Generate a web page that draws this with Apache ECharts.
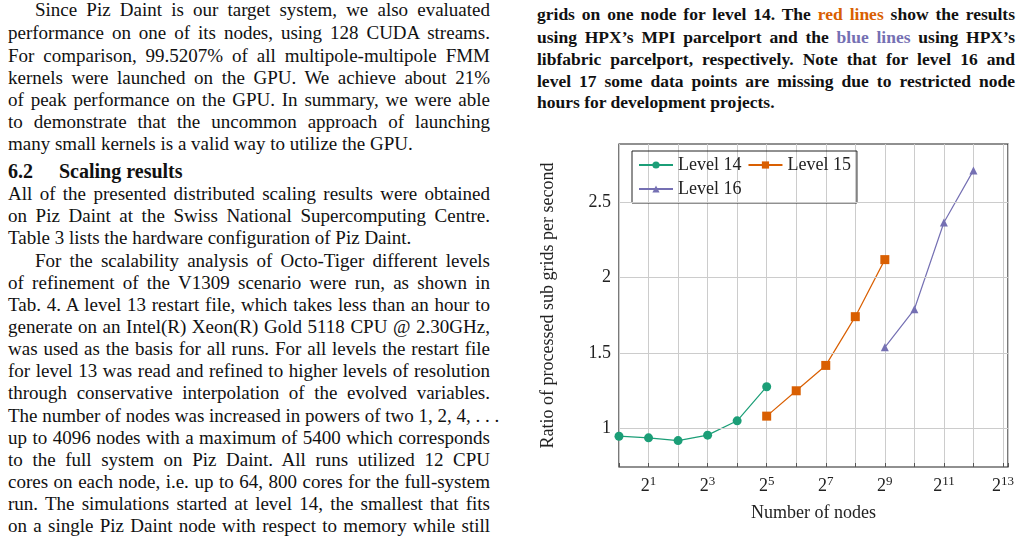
<!DOCTYPE html>
<html><head><meta charset="utf-8">
<script src="https://cdn.jsdelivr.net/npm/echarts@6/dist/echarts.min.js"></script>
<style>
body{margin:0;width:1022px;height:539px;background:#fff;position:relative;overflow:hidden;font-family:"Liberation Serif",serif;color:#111}
.l{position:absolute;left:8px;width:482px;height:22px;line-height:22px;font-size:19px;white-space:nowrap;text-align:justify;text-align-last:justify}
.l.n{text-align-last:left}
.l.i{left:35px;width:455px}
.r{position:absolute;left:537px;width:478px;height:22px;line-height:22px;font-size:17.5px;font-weight:bold;white-space:nowrap;text-align:justify;text-align-last:justify}
.r.n{text-align-last:left}
#chart{position:absolute;left:520px;top:120px;width:502px;height:419px}
</style></head><body>
<div id="txt"></div>
<div id="chart"></div>
<script>
const leftLines = [
 [10,"Since Piz Daint is our target system, we also evaluated","i"],
 [33,"performance on one of its nodes, using 128 CUDA streams.",""],
 [56,"For comparison, 99.5207% of all multipole-multipole FMM",""],
 [78,"kernels were launched on the GPU. We achieve about 21%",""],
 [100,"of peak performance on the GPU. In summary, we were able",""],
 [122,"to demonstrate that the uncommon approach of launching",""],
 [144,"many small kernels is a valid way to utilize the GPU.","n"],
 [194,"All of the presented distributed scaling results were obtained",""],
 [216,"on Piz Daint at the Swiss National Supercomputing Centre.",""],
 [238,"Table 3 lists the hardware configuration of Piz Daint.","n"],
 [261,"For the scalability analysis of Octo-Tiger different levels","i"],
 [283,"of refinement of the V1309 scenario were run, as shown in",""],
 [305,"Tab. 4. A level 13 restart file, which takes less than an hour to",""],
 [327,"generate on an Intel(R) Xeon(R) Gold 5118 CPU @ 2.30GHz,",""],
 [349,"was used as the basis for all runs. For all levels the restart file",""],
 [371,"for level 13 was read and refined to higher levels of resolution",""],
 [393,"through conservative interpolation of the evolved variables.",""],
 [416,"The number of nodes was increased in powers of two 1, 2, 4, . . .",""],
 [438,"up to 4096 nodes with a maximum of 5400 which corresponds",""],
 [460,"to the full system on Piz Daint. All runs utilized 12 CPU",""],
 [482,"cores on each node, i.e. up to 64, 800 cores for the full-system",""],
 [504,"run. The simulations started at level 14, the smallest that fits",""],
 [526,"on a single Piz Daint node with respect to memory while still",""]
];
const rightLines = [
 [14,'grids on one node for level 14. The <span style="color:#d95f02">red lines</span> show the results',""],
 [37,'using HPX’s MPI parcelport and the <span style="color:#7570b3">blue lines</span> using HPX’s',""],
 [59,'libfabric parcelport, respectively. Note that for level 16 and',""],
 [81,'level 17 some data points are missing due to restricted node',""],
 [102,'hours for development projects.',"n"]
];
let h='';
for(const [y,t,c] of leftLines) h+=`<div class="l ${c}" style="top:${y-11}px">${t}</div>`;
h+=`<div style="position:absolute;left:8px;top:159px;font-size:20px;font-weight:bold;line-height:24px">6.2<span style="display:inline-block;width:26px"></span>Scaling results</div>`;
for(const [y,t,c] of rightLines) h+=`<div class="r ${c}" style="top:${y-11}px">${t}</div>`;
document.getElementById('txt').innerHTML=h;

// chart data: x = log2(number of nodes)
const level14X = [0,1,2,3,4,5];
const level14Y = [0.949,0.938,0.920,0.956,1.051,1.277];
const level15X = [5,6,7,8,9];
const level15Y = [1.082,1.250,1.418,1.741,2.119];
const level16X = [9,10,11,12];
const level16Y = [1.538,1.790,2.365,2.710];
const yTicks = [1,1.5,2,2.5];
const pair=(xs,ys)=>xs.map((x,i)=>[x,ys[i]]);
const F='"Liberation Serif",serif';
const chart=echarts.init(document.getElementById('chart'));
chart.setOption({
 animation:false,
 grid:{left:99,right:14,top:24,bottom:72,show:true,borderColor:'#222',borderWidth:1.2},
 legend:{left:112,top:31,width:220,itemGap:6,padding:[5,6,5,6],borderColor:'#222',borderWidth:1,
   itemWidth:34,itemHeight:9,textStyle:{fontFamily:F,fontSize:18,color:'#222'},
   data:['Level 14','Level 15','Level 16']},
 xAxis:{type:'value',min:0,max:13.17,interval:1,
   name:'Number of nodes',nameLocation:'middle',nameGap:37,nameTextStyle:{fontFamily:F,fontSize:18,color:'#222'},
   axisLine:{show:false},axisTick:{inside:true,length:4,lineStyle:{color:'#555'}},
   splitLine:{lineStyle:{color:'#ccc'}},
   axisLabel:{fontFamily:F,fontSize:18,color:'#222',margin:8,
     formatter:v=>(v%2===1)?'2{s|'+v+'}':'',rich:{s:{fontSize:13,fontFamily:F,verticalAlign:'top',padding:[0,0,10,0]}}}},
 yAxis:{type:'value',min:0.745,max:2.885,
   name:'Ratio of processed sub grids per second',nameLocation:'middle',nameGap:62,
   nameTextStyle:{fontFamily:F,fontSize:18,color:'#222'},
   axisLine:{show:false},splitLine:{show:false},axisTick:{show:false},
   axisLabel:{fontFamily:F,fontSize:18,color:'#222',customValues:yTicks,formatter:v=>String(v)}},
 series:[
  {name:'Level 14',type:'line',data:pair(level14X,level14Y),symbol:'circle',symbolSize:9,
   itemStyle:{color:'#1b9e77'},lineStyle:{width:1.2},
   markLine:{silent:true,symbol:'none',label:{show:false},lineStyle:{color:'#ccc',type:'solid',width:1},
     data:yTicks.map(v=>({yAxis:v}))}},
  {name:'Level 15',type:'line',data:pair(level15X,level15Y),symbol:'rect',symbolSize:9,
   itemStyle:{color:'#d95f02'},lineStyle:{width:1.2}},
  {name:'Level 16',type:'line',data:pair(level16X,level16Y),symbol:'triangle',symbolSize:8,
   itemStyle:{color:'#7570b3'},lineStyle:{width:1.2}}
 ]
});
</script></body></html>
